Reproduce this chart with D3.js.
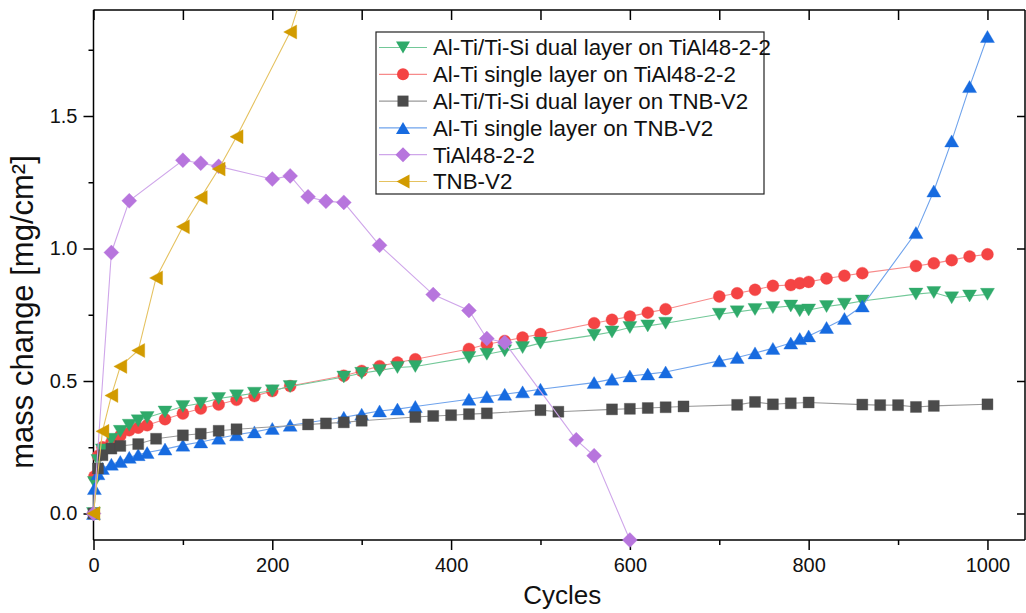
<!DOCTYPE html>
<html>
<head>
<meta charset="utf-8">
<script src="https://cdn.jsdelivr.net/npm/d3@7"></script>
<style>
	body { margin: 0; background: #fff; }
	svg { display: block; font-family: "Liberation Sans", Arial, sans-serif; }
	.axis path, .axis line { stroke: #000; stroke-width: 1.5; }
	.axis text { font-size: 20px; fill: #111; }
	.legend text { font-size: 22.3px; fill: #111; }
</style>
</head>
<body>
<div class="container"></div>
<script>

// cycles / mass change [mg/cm²] per series
const dualTiAlCycles = [0, 1, 5, 10, 20, 30, 40, 50, 60, 80, 100, 120, 140, 160, 180, 200, 220, 280, 300, 320, 340, 360, 420, 440, 460, 480, 500, 560, 580, 600, 620, 640, 700, 720, 740, 760, 780, 790, 800, 820, 840, 860, 920, 940, 960, 980, 1000];
const dualTiAlMass = [0, 0.117, 0.2, 0.24, 0.28, 0.31, 0.333, 0.35, 0.362, 0.383, 0.404, 0.416, 0.434, 0.444, 0.454, 0.463, 0.479, 0.515, 0.529, 0.54, 0.551, 0.555, 0.589, 0.601, 0.614, 0.626, 0.643, 0.673, 0.685, 0.702, 0.708, 0.718, 0.752, 0.761, 0.77, 0.777, 0.783, 0.765, 0.768, 0.781, 0.79, 0.802, 0.828, 0.834, 0.814, 0.821, 0.827];

const singleTiAlCycles = [0, 1, 5, 10, 20, 30, 40, 50, 60, 80, 100, 120, 140, 160, 180, 200, 220, 280, 300, 320, 340, 360, 420, 440, 460, 480, 500, 560, 580, 600, 620, 640, 700, 720, 740, 760, 780, 790, 800, 820, 840, 860, 920, 940, 960, 980, 1000];
const singleTiAlMass = [0, 0.14, 0.217, 0.25, 0.268, 0.293, 0.314, 0.324, 0.333, 0.356, 0.377, 0.396, 0.411, 0.429, 0.443, 0.462, 0.481, 0.52, 0.538, 0.556, 0.57, 0.582, 0.621, 0.639, 0.651, 0.664, 0.677, 0.718, 0.731, 0.743, 0.758, 0.771, 0.819, 0.831, 0.844, 0.859, 0.862, 0.869, 0.874, 0.887, 0.897, 0.907, 0.934, 0.944, 0.956, 0.97, 0.978];

const dualTnbCycles = [0, 5, 10, 20, 30, 50, 70, 100, 120, 140, 160, 240, 260, 280, 300, 360, 380, 400, 420, 440, 500, 520, 580, 600, 620, 640, 660, 720, 740, 760, 780, 800, 860, 880, 900, 920, 940, 1000];
const dualTnbMass = [0, 0.17, 0.22, 0.245, 0.255, 0.262, 0.282, 0.295, 0.301, 0.312, 0.318, 0.336, 0.34, 0.344, 0.35, 0.364, 0.368, 0.371, 0.375, 0.378, 0.39, 0.384, 0.393, 0.395, 0.398, 0.401, 0.404, 0.41, 0.421, 0.412, 0.416, 0.419, 0.411, 0.409, 0.409, 0.402, 0.406, 0.412];

const singleTnbCycles = [0, 1, 5, 10, 20, 30, 40, 50, 60, 80, 100, 120, 140, 160, 180, 200, 220, 280, 300, 320, 340, 360, 420, 440, 460, 480, 500, 560, 580, 600, 620, 640, 700, 720, 740, 760, 780, 790, 800, 820, 840, 860, 920, 940, 960, 980, 1000];
const singleTnbMass = [0, 0.094, 0.15, 0.17, 0.186, 0.196, 0.212, 0.222, 0.23, 0.243, 0.258, 0.27, 0.284, 0.297, 0.308, 0.321, 0.333, 0.363, 0.375, 0.387, 0.394, 0.404, 0.431, 0.441, 0.45, 0.459, 0.469, 0.494, 0.507, 0.519, 0.526, 0.534, 0.576, 0.589, 0.606, 0.623, 0.643, 0.66, 0.67, 0.702, 0.736, 0.783, 1.06, 1.217, 1.406, 1.611, 1.8];

const tial48Cycles = [0, 20, 40, 100, 120, 140, 200, 220, 240, 260, 280, 320, 380, 420, 440, 460, 540, 560, 600];
const tial48Mass = [0, 0.985, 1.18, 1.333, 1.322, 1.31, 1.262, 1.274, 1.195, 1.178, 1.174, 1.012, 0.826, 0.766, 0.66, 0.645, 0.278, 0.218, -0.1];

const tnbCycles = [0, 10, 20, 30, 50, 70, 100, 120, 140, 160, 220, 240];
const tnbMass = [0, 0.31, 0.445, 0.555, 0.615, 0.889, 1.082, 1.192, 1.3, 1.422, 1.817, 2.03];

const legendLabels = [
	'Al-Ti/Ti-Si dual layer on TiAl48-2-2',
	'Al-Ti single layer on TiAl48-2-2',
	'Al-Ti/Ti-Si dual layer on TNB-V2',
	'Al-Ti single layer on TNB-V2',
	'TiAl48-2-2',
	'TNB-V2'
];

const xTicks = [0, 200, 400, 600, 800, 1000];
const xMinorTicks = [100, 300, 500, 700, 900];
const yTicks = [0, 0.5, 1.0, 1.5];
const yMinorTicks = [0.25, 0.75, 1.25, 1.75];

const series = [
	{ name: legendLabels[0], shape: 'down',    fill: '#2faa6a', stroke: '#72c898', xs: dualTiAlCycles,   ys: dualTiAlMass },
	{ name: legendLabels[1], shape: 'circle',  fill: '#f44444', stroke: '#f78a8a', xs: singleTiAlCycles, ys: singleTiAlMass },
	{ name: legendLabels[2], shape: 'square',  fill: '#4b4b4b', stroke: '#9a9a9a', xs: dualTnbCycles,    ys: dualTnbMass },
	{ name: legendLabels[3], shape: 'up',      fill: '#176be0', stroke: '#6fa3ec', xs: singleTnbCycles,  ys: singleTnbMass },
	{ name: legendLabels[4], shape: 'diamond', fill: '#b775dd', stroke: '#cfa6ea', xs: tial48Cycles,     ys: tial48Mass },
	{ name: legendLabels[5], shape: 'left',    fill: '#d29b00', stroke: '#e5c260', xs: tnbCycles,        ys: tnbMass }
];

// draw order: the later ones sit on top
const drawOrder = [1, 0, 3, 2, 4, 5];

const width = 1026, height = 613;
const plot = { left: 93.5, right: 1025, top: 10, bottom: 540 };

const x = d3.scaleLinear().domain([0, 1042]).range([plot.left, plot.right]);
const y = d3.scaleLinear().domain([-0.1, 1.9]).range([plot.bottom, plot.top]);

const markerPath = {
	circle:  'M6,0A6,6 0 1,1 -6,0A6,6 0 1,1 6,0Z',
	square:  'M-5.5,-5.5H5.5V5.5H-5.5Z',
	up:      'M0,-6L7,6L-7,6Z',
	down:    'M0,6L7,-6L-7,-6Z',
	left:    'M-6.5,0L6.5,-7L6.5,7Z',
	diamond: 'M0,-7.5L7.5,0L0,7.5L-7.5,0Z'
};

const svg = d3.select('.container')
	.append('svg')
		.attr('width', width)
		.attr('height', height);

svg.append('defs')
	.append('clipPath')
		.attr('id', 'plot-clip')
	.append('rect')
		.attr('x', plot.left)
		.attr('y', plot.top)
		.attr('width', plot.right - plot.left)
		.attr('height', plot.bottom - plot.top);

// axes
const fmtY = d3.format('.1f');
const fmtX = d3.format('d');

svg.append('g')
	.attr('class', 'axis')
	.attr('transform', `translate(0, ${plot.bottom})`)
	.call(d3.axisBottom(x).tickValues(xMinorTicks).tickSize(5).tickFormat(''))
	.call(g => g.select('.domain').remove());

svg.append('g')
	.attr('class', 'axis')
	.attr('transform', `translate(0, ${plot.bottom})`)
	.call(d3.axisBottom(x).tickValues(xTicks).tickSize(10).tickSizeOuter(0).tickPadding(8).tickFormat(fmtX))
	.call(g => g.select('.domain').attr('d', `M${plot.left},0H${plot.right}`));

svg.append('g')
	.attr('class', 'axis')
	.attr('transform', `translate(${plot.left}, 0)`)
	.call(d3.axisLeft(y).tickValues(yMinorTicks).tickSize(5).tickFormat(''))
	.call(g => g.select('.domain').remove());

svg.append('g')
	.attr('class', 'axis')
	.attr('transform', `translate(${plot.left}, 0)`)
	.call(d3.axisLeft(y).tickValues(yTicks).tickSize(10).tickSizeOuter(0).tickPadding(6).tickFormat(fmtY))
	.call(g => g.select('.domain').attr('d', `M0,${plot.top}V${plot.bottom}`));

svg.append('g')
	.attr('class', 'axis')
	.attr('transform', `translate(0, ${plot.top})`)
	.call(d3.axisTop(x).tickValues(d3.merge([xTicks, xMinorTicks])).tickSize(-10).tickSizeOuter(0).tickFormat(''))
	.call(g => g.select('.domain').attr('d', `M${plot.left},0H${plot.right}`));

svg.append('g')
	.attr('class', 'axis')
	.attr('transform', `translate(${plot.right}, 0)`)
	.call(d3.axisRight(y).tickValues(yTicks).tickSize(-8).tickSizeOuter(0).tickFormat(''))
	.call(g => g.select('.domain').attr('d', `M0,${plot.top}V${plot.bottom}`));

// axis titles
svg.append('text')
	.attr('x', (plot.left + plot.right) / 2 + 3)
	.attr('y', 604)
	.attr('text-anchor', 'middle')
	.style('font-size', '26px')
	.style('fill', '#111')
	.text('Cycles');

svg.append('text')
	.attr('transform', `translate(33, ${(plot.top + plot.bottom) / 2 + 37}) rotate(-90)`)
	.attr('text-anchor', 'middle')
	.style('font-size', '31px')
	.style('fill', '#111')
	.text('mass change [mg/cm²]');

// series
const line = d3.line()
	.x(d => x(d[0]))
	.y(d => y(d[1]));

const inView = d => d[1] >= y.domain()[0] - 1e-9 && d[1] <= y.domain()[1];

drawOrder.forEach(idx => {
	const s = series[idx];
	const points = d3.zip(s.xs, s.ys);

	const group = svg.append('g').attr('class', 'series');

	group.append('path')
		.datum(points)
		.attr('clip-path', 'url(#plot-clip)')
		.attr('fill', 'none')
		.attr('stroke', s.stroke)
		.attr('stroke-width', 1.1)
		.attr('d', line);

	group.selectAll('path.mark')
		.data(points.filter(inView))
		.enter()
		.append('path')
			.attr('class', 'mark')
			.attr('transform', d => `translate(${x(d[0])}, ${y(d[1])})`)
			.attr('d', markerPath[s.shape])
			.attr('fill', s.fill)
			.attr('stroke', s.fill)
			.attr('stroke-opacity', 0.35)
			.attr('stroke-width', 1);
});

// legend
const legend = svg.append('g')
	.attr('class', 'legend')
	.attr('transform', 'translate(376, 32)');

legend.append('rect')
	.attr('width', 388)
	.attr('height', 162)
	.attr('fill', '#fff')
	.attr('stroke', '#222')
	.attr('stroke-width', 1.2);

const rows = legend.selectAll('g.row')
	.data(series)
	.enter()
	.append('g')
		.attr('class', 'row')
		.attr('transform', (s, i) => `translate(0, ${15.5 + i * 26.8})`);

rows.append('line')
	.attr('x1', 3)
	.attr('x2', 51)
	.attr('stroke', s => s.stroke)
	.attr('stroke-width', 1.2);

rows.append('path')
	.attr('transform', 'translate(27, 0)')
	.attr('d', s => markerPath[s.shape])
	.attr('fill', s => s.fill);

rows.append('text')
	.attr('x', 57)
	.attr('dy', '0.35em')
	.text(s => s.name);

</script>
</body>
</html>
